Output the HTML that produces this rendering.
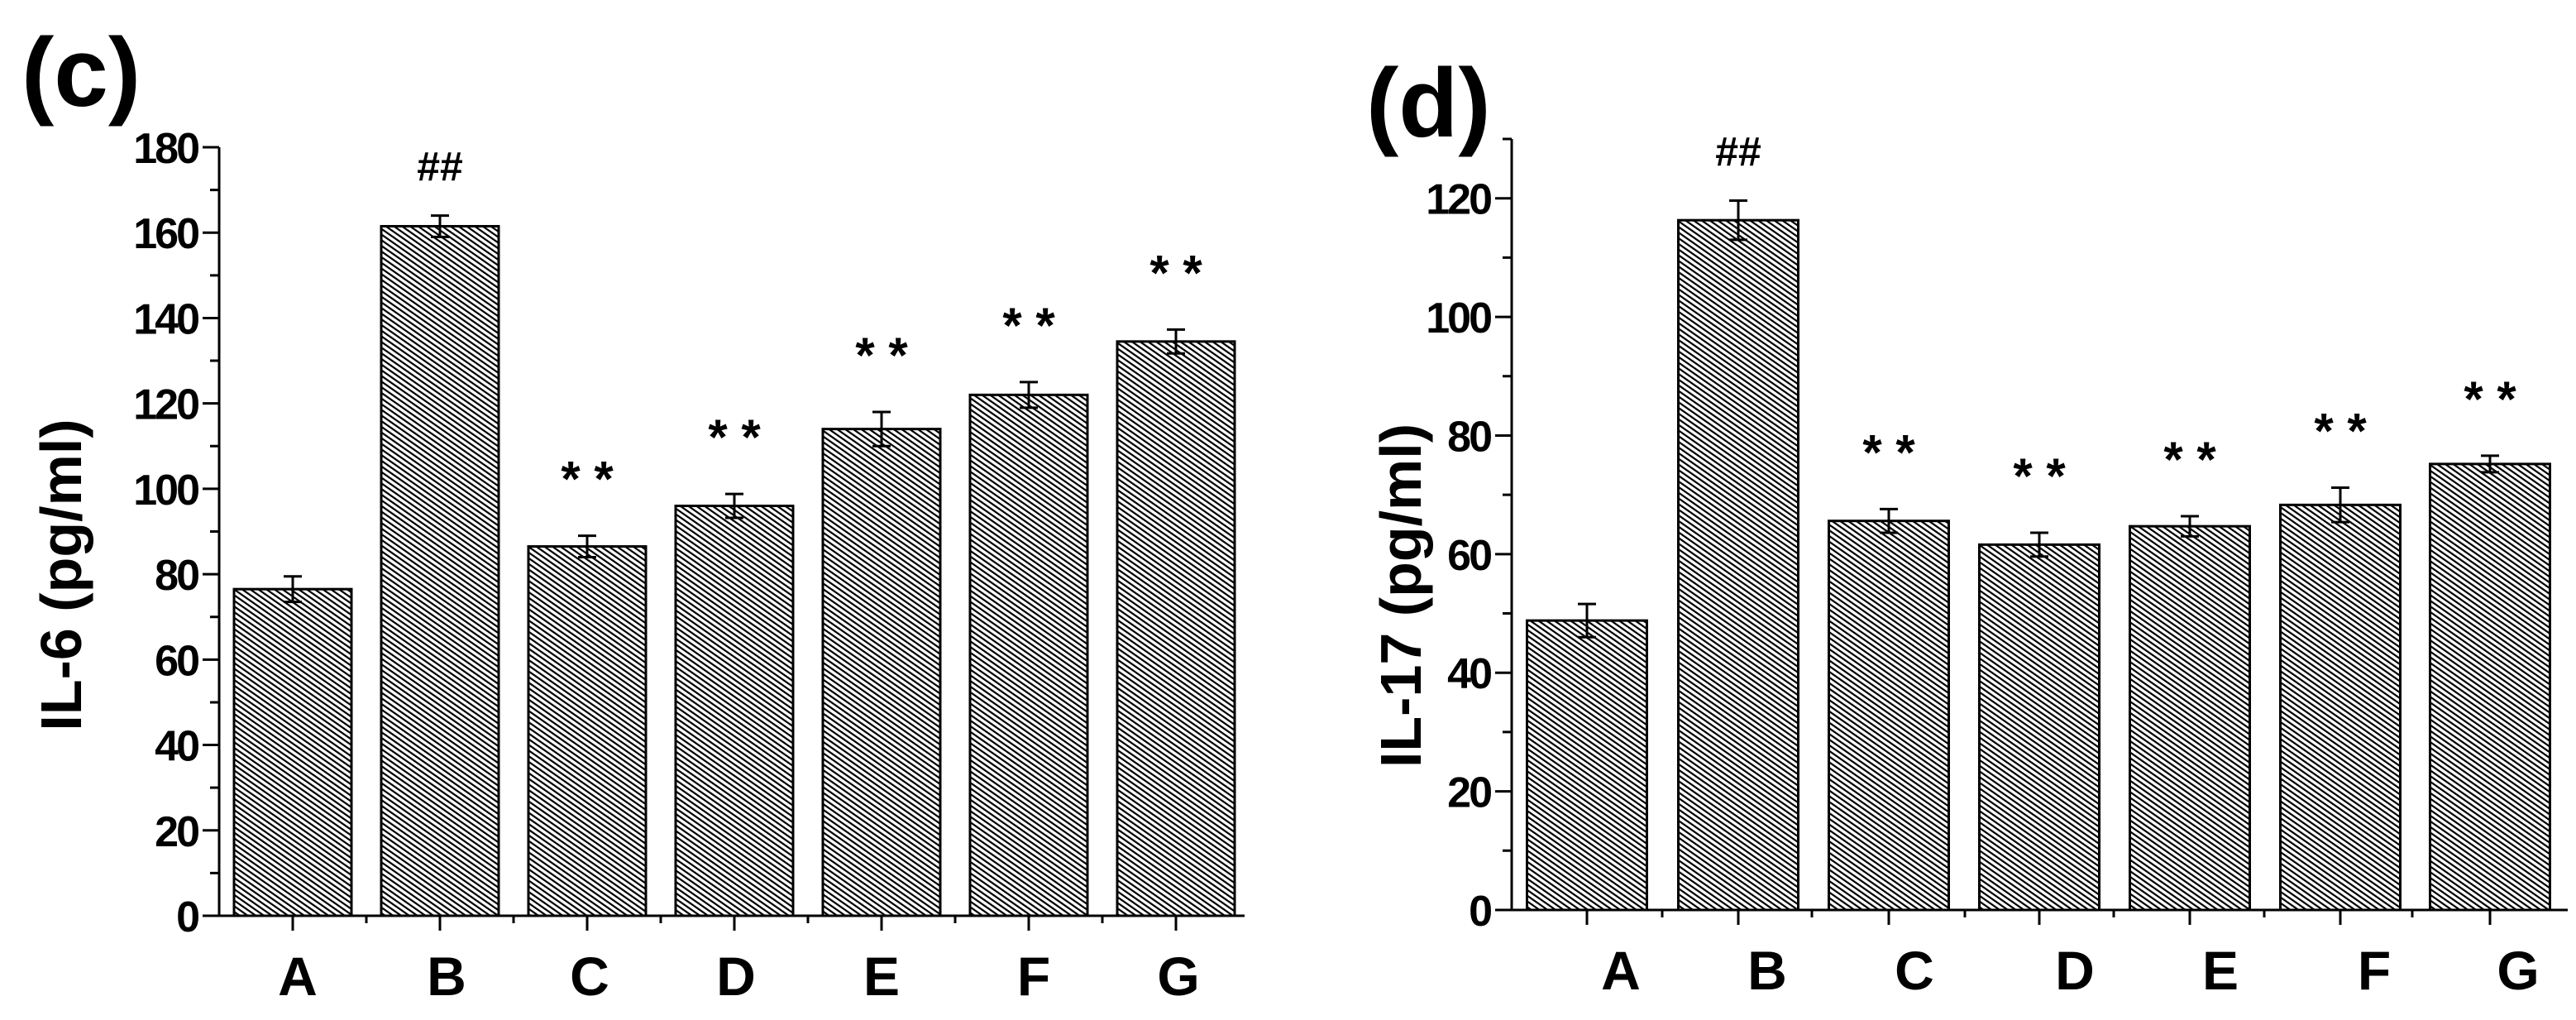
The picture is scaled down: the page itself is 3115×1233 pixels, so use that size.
<!DOCTYPE html>
<html><head><meta charset="utf-8"><style>
html,body{margin:0;padding:0;background:#fff;overflow:hidden;}
svg text{font-family:"Liberation Sans",sans-serif;font-weight:bold;fill:#000;}
</style></head><body>
<svg id="s" width="3115" height="1228" viewBox="0 0 3115 1228" xmlns="http://www.w3.org/2000/svg">
<defs>
<pattern id="hatch" patternUnits="userSpaceOnUse" width="20" height="5.6" patternTransform="rotate(35)">
<rect width="20" height="5.6" fill="#fff"/>
<line x1="0" y1="1.2" x2="20" y2="1.2" stroke="#000" stroke-width="2.2"/>
</pattern>
</defs>
<g id="c1"></g>
<g id="c2"></g>
</svg>
<script>
const categories = ["A","B","C","D","E","F","G"];
const il6Values = [76.5,161.5,86.5,96,114,122,134.5];
const il6Errors = [3,2.5,2.5,2.8,4,3,2.8];
const il6Marks = ["","##","**","**","**","**","**"];
const il6Ticks = [0,20,40,60,80,100,120,140,160,180];
const il17Values = [48.8,116.3,65.6,61.6,64.7,68.3,75.2];
const il17Errors = [2.8,3.3,2,2,1.7,2.9,1.4];
const il17Marks = ["","##","**","**","**","**","**"];
const il17Ticks = [0,20,40,60,80,100,120];

const NS="http://www.w3.org/2000/svg";
function mk(parent,tag,attrs,text){const e=document.createElementNS(NS,tag);for(const k in attrs)e.setAttribute(k,attrs[k]);if(text!==undefined)e.textContent=text;parent.appendChild(e);return e;}

function drawChart(g,cfg){
  const y=v=>cfg.y0-v/cfg.ymax*(cfg.y0-cfg.ytop);
  const pl=mk(g,"text",{x:cfg.labelX,y:cfg.labelY,"font-size":118},cfg.panel);
  
  
  const yt=mk(g,"text",{x:0,y:0,"font-size":70,"text-anchor":"middle",transform:`translate(${cfg.titleX},${cfg.titleY}) rotate(-90)`},cfg.title);
  
  
  categories.forEach((c,i)=>{
    const cx=cfg.cx[i];
    const v=cfg.values[i], e=cfg.errors[i];
    const r=mk(g,"rect",{x:cx-cfg.bw/2,y:y(v),width:cfg.bw,height:cfg.y0-y(v),fill:"url(#hatch)",stroke:"#000","stroke-width":3});
    
    
    const eb=mk(g,"path",{d:`M${cx},${y(v+e)}V${y(v-e)}M${cx-11},${y(v+e)}H${cx+11}M${cx-11},${y(v-e)}H${cx+11}`,stroke:"#000","stroke-width":3,fill:"none"});
    
    
    if(cfg.marks[i]){
      const isHash=cfg.marks[i]==="##";
      const m=mk(g,"text",{x:cx,y:y(v+e)-(isHash?42:48),"font-size":isHash?50:60,"text-anchor":"middle","font-family":"Liberation Serif","font-weight":"normal"},isHash?"##":"* *");
      
      
    }
    const cl=mk(g,"text",{x:cfg.labX[i],y:cfg.y0+96,"font-size":66,"text-anchor":"middle"},c);
    
    
  });
  let d=`M${cfg.ax},${cfg.ytop}V${cfg.y0}H${cfg.xend}`;
  for(let v=0;v<=cfg.ymax+0.01;v+=10){
    const major=cfg.ticks.includes(v);
    d+=`M${cfg.ax},${y(v)}h${major?-20:-11}`;
  }
  cfg.cx.forEach(x=>{d+=`M${x},${cfg.y0}v18`;});
  cfg.minor.forEach(x=>{d+=`M${x},${cfg.y0}v9`;});
  const ax=mk(g,"path",{d:d,stroke:"#000","stroke-width":3,fill:"none"});
  
  
  cfg.ticks.forEach(t=>{
    const tl=mk(g,"text",{x:cfg.ax-26,y:y(t)+19,"font-size":52,"text-anchor":"end","letter-spacing":"-3"},String(t));
    
    
  });
}

drawChart(document.getElementById('c1'),{
  panel:"(c)",labelX:26,labelY:128,title:"IL-6 (pg/ml)",titleX:98,titleY:695,
  ax:265,y0:1107,ytop:178,ymax:180,xend:1505,bw:142,
  cx:[354,532,710,888,1066,1244,1422],minor:[443,621,799,977,1155,1333],
  labX:[360,540,713,890,1066,1250,1425],
  values:il6Values,errors:il6Errors,marks:il6Marks,ticks:il6Ticks
});
drawChart(document.getElementById('c2'),{
  panel:"(d)",labelX:1652,labelY:165,title:"IL-17 (pg/ml)",titleX:1718,titleY:720,
  ax:1828,y0:1100,ytop:168,ymax:130,xend:3105,bw:145,
  cx:[1919,2102,2284,2466,2648,2830,3011],minor:[2010,2191,2376,2556,2738,2917],
  labX:[1960,2137,2315,2509,2685,2871,3045],
  values:il17Values,errors:il17Errors,marks:il17Marks,ticks:il17Ticks
});
</script>
</body></html>
